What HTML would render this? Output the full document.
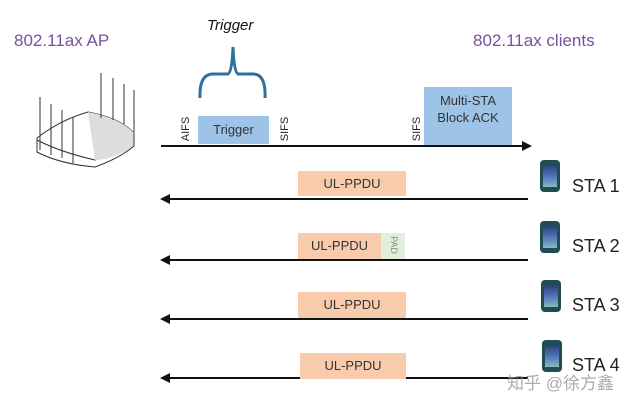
<!DOCTYPE html>
<html><head><meta charset="utf-8"><style>
body{margin:0;width:640px;height:406px;background:#fff;position:relative;overflow:hidden;font-family:"Liberation Sans","Noto Sans CJK SC",sans-serif;}
.a{position:absolute;}
.ppdu{position:absolute;background:#f8cbad;color:#333;font-size:13px;text-align:center;}
.sta{position:absolute;left:572px;font-size:18px;color:#222;}
.phone{position:absolute;width:20px;height:32px;border-radius:4px;background:#1f4d52;}
.phone:after{content:"";position:absolute;left:3px;top:5px;width:14px;height:22px;background:linear-gradient(#2a3f7a,#5a7fc0 60%,#8bb 100%);}
.rot{position:absolute;transform:rotate(-90deg);transform-origin:center;font-size:11px;color:#222;}
</style></head><body>
<div class="a" style="left:14px;top:31px;font-size:17px;color:#7a4fa0">802.11ax AP</div>
<div class="a" style="left:473px;top:31px;font-size:17px;color:#7a4fa0">802.11ax clients</div>
<div class="a" style="left:207px;top:17px;font-size:15px;font-style:italic;color:#111">Trigger</div>
<svg class="a" style="left:0;top:0" width="640" height="406">
<path d="M200,98 Q199,75 212,74 L228,74 Q232,72 233,47 Q234,72 238,74 L254,74 Q266,75 265,98" fill="none" stroke="#2d6fa0" stroke-width="3"/>
<g stroke="#333" stroke-width="1" fill="none">
<path d="M37,138 Q60,120 88,112 Q120,118 134,133 Q112,152 95,160 Q60,152 37,140 Z" fill="#fff"/>
<path d="M88,112 Q120,118 134,133 L134,146 Q112,160 95,160 Z" fill="#ddd" stroke="none"/>
<path d="M37,140 L37,152 Q60,164 95,167 Q120,158 134,146 L134,133"/>
<path d="M101,73 L101,118 M113,78 L113,120 M124,84 L124,124 M134,90 L134,132"/>
<path d="M40,97 L40,150 M51,104 L51,155 M62,110 L62,158 M73,117 L73,163"/>
</g>
<path d="M161,146 L524,146" stroke="#111" stroke-width="2"/>
<path d="M532,146 L522,141 L522,151 Z" fill="#111"/>
<g stroke="#111" stroke-width="2"><path d="M168,199 L528,199 M168,260 L528,260 M168,319 L528,319 M168,378 L528,378"/></g>
<g fill="#111"><path d="M160,199 L170,194 L170,204 Z M160,260 L170,255 L170,265 Z M160,319 L170,314 L170,324 Z M160,378 L170,373 L170,383 Z"/></g>
</svg>
<div class="a" style="left:198px;top:116px;width:71px;height:28px;background:#9dc3e6;font-size:13px;line-height:28px;text-align:center;color:#333">Trigger</div>
<div class="a" style="left:424px;top:87px;width:88px;height:58px;background:#9dc3e6;font-size:13px;text-align:center;color:#333;line-height:17px;padding-top:5px;box-sizing:border-box">Multi-STA<br>Block ACK</div>
<div class="rot" style="left:174px;top:123px">AIFS</div>
<div class="rot" style="left:273px;top:123px">SIFS</div>
<div class="rot" style="left:405px;top:123px">SIFS</div>
<div class="ppdu" style="left:298px;top:171px;width:108px;height:25px;line-height:25px">UL-PPDU</div>
<div class="ppdu" style="left:298px;top:233px;width:83px;height:26px;line-height:26px">UL-PPDU</div>
<div class="a" style="left:381px;top:233px;width:24px;height:26px;background:#e2efda"></div>
<div class="a" style="left:385px;top:240px;font-size:9px;color:#888;transform:rotate(90deg)">PAD</div>
<div class="ppdu" style="left:298px;top:292px;width:108px;height:26px;line-height:26px">UL-PPDU</div>
<div class="ppdu" style="left:300px;top:353px;width:106px;height:26px;line-height:26px">UL-PPDU</div>
<div class="phone" style="left:540px;top:160px"></div>
<div class="phone" style="left:540px;top:221px"></div>
<div class="phone" style="left:541px;top:280px"></div>
<div class="phone" style="left:542px;top:340px"></div>
<div class="sta" style="top:176px">STA 1</div>
<div class="sta" style="top:236px">STA 2</div>
<div class="sta" style="top:295px">STA 3</div>
<div class="sta" style="top:355px">STA 4</div>
<div class="a" style="left:507px;top:369px;font-size:17px;color:rgba(150,150,150,0.8)">知乎 @徐方鑫</div>
</body></html>
